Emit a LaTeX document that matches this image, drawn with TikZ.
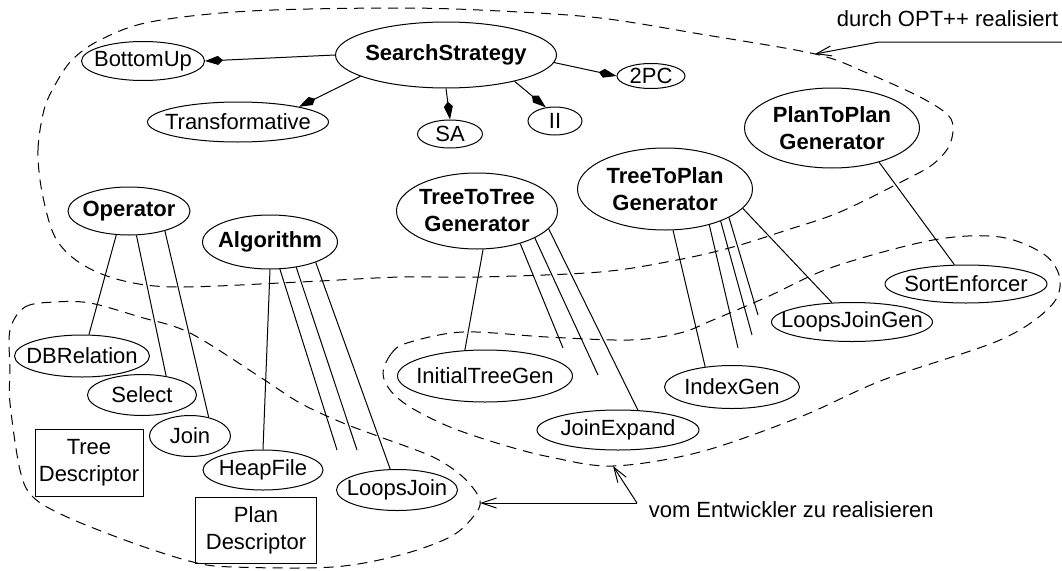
\documentclass[tikz,border=0pt]{standalone}
\usepackage{fontspec}
\setmainfont{Liberation Sans}
\usetikzlibrary{shapes.geometric,arrows.meta}

\begin{document}
\begin{tikzpicture}[
    x=1pt, y=-1pt, line width=1pt,
    every node/.style={font=\fontsize{22}{27}\selectfont},
    cls/.style={ellipse, draw, inner xsep=-15pt, inner ysep=0pt, align=center},
    abstract/.style={cls, font=\fontsize{22}{27}\selectfont\bfseries},
    desc/.style={rectangle, draw, inner sep=0pt, align=center},
    has/.style={-{Kite[length=18pt, width=9pt, inset=5pt]}},
    note/.style={-{Straight Barb[length=15pt, width=10pt]}},
    region/.style={dash pattern=on 10pt off 7pt}
]
\useasboundingbox (0,0) rectangle (1062,570);

% regions
\draw[region] plot[smooth cycle, tension=0.55] coordinates {
    (42,192) (38,150) (44,110) (55,85) (72,60) (100,40) (150,22) (250,11)
    (400,8) (500,11) (600,18) (700,34) (815,54) (867,73) (920,97) (948,115)
    (953,130) (948,148) (932,165) (905,180) (840,212) (787,230) (733,247)
    (677,260) (600,272) (480,277) (400,277) (300,282) (177,287) (120,280)
    (80,263) (55,237)};
\draw[region] plot[smooth cycle, tension=0.55] coordinates {
    (10,330) (25,307) (55,302) (90,303) (140,317) (190,333) (260,377)
    (300,403) (343,423) (383,438) (433,457) (463,477) (480,500) (473,517)
    (450,537) (400,555) (333,567) (233,567) (193,562) (133,543) (67,517)
    (33,497) (20,470) (10,403) (10,370)};
\draw[region] plot[smooth cycle, tension=0.55] coordinates {
    (383,373) (391,354) (407,343) (463,332) (547,337) (630,340) (680,333)
    (713,320) (767,297) (833,267) (933,240) (1000,237) (1045,255) (1060,280)
    (1050,307) (1000,340) (883,380) (800,417) (700,452) (613,466) (550,457)
    (500,444) (450,427) (410,407) (390,390)};

% search strategies
\node[abstract, minimum width=221pt, minimum height=66pt] (ss) at (446,55) {SearchStrategy};
\node[cls, minimum width=123pt, minimum height=39pt] (bu) at (143,61) {BottomUp};
\node[cls, minimum width=181pt, minimum height=40pt] (tr) at (238,122) {Transformative};
\node[cls, minimum width=65pt, minimum height=28pt] (sa) at (450,134) {SA};
\node[cls, minimum width=54pt, minimum height=28pt] (ii) at (555,121) {II};
\node[cls, minimum width=68pt, minimum height=25pt] (twopc) at (651,76) {2PC};

% generators
\node[abstract, minimum width=175pt, minimum height=80pt] (pp) at (832,128) {PlanToPlan\\Generator};
\node[abstract, minimum width=175pt, minimum height=82pt] (tp) at (665,189) {TreeToPlan\\Generator};
\node[abstract, minimum width=161pt, minimum height=76pt] (tt) at (477,211) {TreeToTree\\Generator};
\node[abstract, minimum width=122pt, minimum height=48pt] (op) at (129,211) {Operator};
\node[abstract, minimum width=135pt, minimum height=54pt] (al) at (270,242) {Algorithm};

% lower left
\node[cls, minimum width=135pt, minimum height=42pt] (db) at (82,356) {DBRelation};
\node[cls, minimum width=109pt, minimum height=41pt] (sel) at (142,395) {Select};
\node[cls, minimum width=81pt, minimum height=41pt] (join) at (190,436) {Join};
\node[cls, minimum width=120pt, minimum height=40pt] (heap) at (263,470) {HeapFile};
\node[cls, minimum width=121pt, minimum height=41pt] (lj) at (397,490) {LoopsJoin};
\node[desc, minimum width=108pt, minimum height=67pt] (td) at (89,463) {Tree\\Descriptor};
\node[desc, minimum width=121pt, minimum height=66pt] (pd) at (256,530) {Plan\\Descriptor};

% lower right
\node[cls, minimum width=175pt, minimum height=52pt] (itg) at (485,376) {InitialTreeGen};
\node[cls, minimum width=135pt, minimum height=43pt] (ig) at (732,387) {IndexGen};
\node[cls, minimum width=162pt, minimum height=40pt] (je) at (618,430) {JoinExpand};
\node[cls, minimum width=161pt, minimum height=39pt] (ljg) at (852,322) {LoopsJoinGen};
\node[cls, minimum width=162pt, minimum height=38pt] (sort) at (966,284) {SortEnforcer};

% open ends
\coordinate (alx) at (337,450);
\coordinate (aly) at (357,450);
\coordinate (ttx) at (563,348);
\coordinate (tty) at (598,375);
\coordinate (tpx) at (738,348);
\coordinate (tpy) at (752,335);
\coordinate (tpz) at (758,315);

\draw[has] (ss.west) -- (bu.east);
\draw[has] (ss.194) -- (tr.14);
\draw[has] (ss.south) -- (sa.north);
\draw[has] (ss.-21) -- (ii.124);
\draw[has] (ss.-4) -- (twopc.west);

\draw (op.242) -- (db.72);
\draw (op.-73) -- (sel.38);
\draw (op.-29) -- (join.45);
\draw (al.south) -- (heap.north);
\draw (al.-70) -- (alx);
\draw (al.-44) -- (aly);
\draw (al.-24) -- (lj.108);
\draw (tt.-81) -- (itg.128);
\draw (tt.-37) -- (ttx);
\draw (tt.-25) -- (tty);
\draw (tt.-14) -- (je.45);
\draw (tp.-79) -- (ig.143);
\draw (tp.-39) -- (tpx);
\draw (tp.-30) -- (tpy);
\draw (tp.-24) -- (tpz);
\draw (tp.-14) -- (ljg.136);
\draw (pp.-36) -- (sort.121);

% notes
\node[anchor=base west] (opt) at (833,27) {durch OPT++ realisiert};
\coordinate (optknee) at (879,42);
\coordinate (optend) at (1062,42);
\coordinate (opttip) at (815,54);
\draw[note] (optend) -- (optknee) -- (opttip);

\node[anchor=base west] (dev) at (645,517) {vom Entwickler zu realisieren};
\coordinate (devknee) at (637,503);
\coordinate (devtipa) at (480,503);
\coordinate (devtipb) at (613,466);
\draw[note] (devknee) -- (devtipa);
\draw[note] (devknee) -- (devtipb);

\end{tikzpicture}
\end{document}
